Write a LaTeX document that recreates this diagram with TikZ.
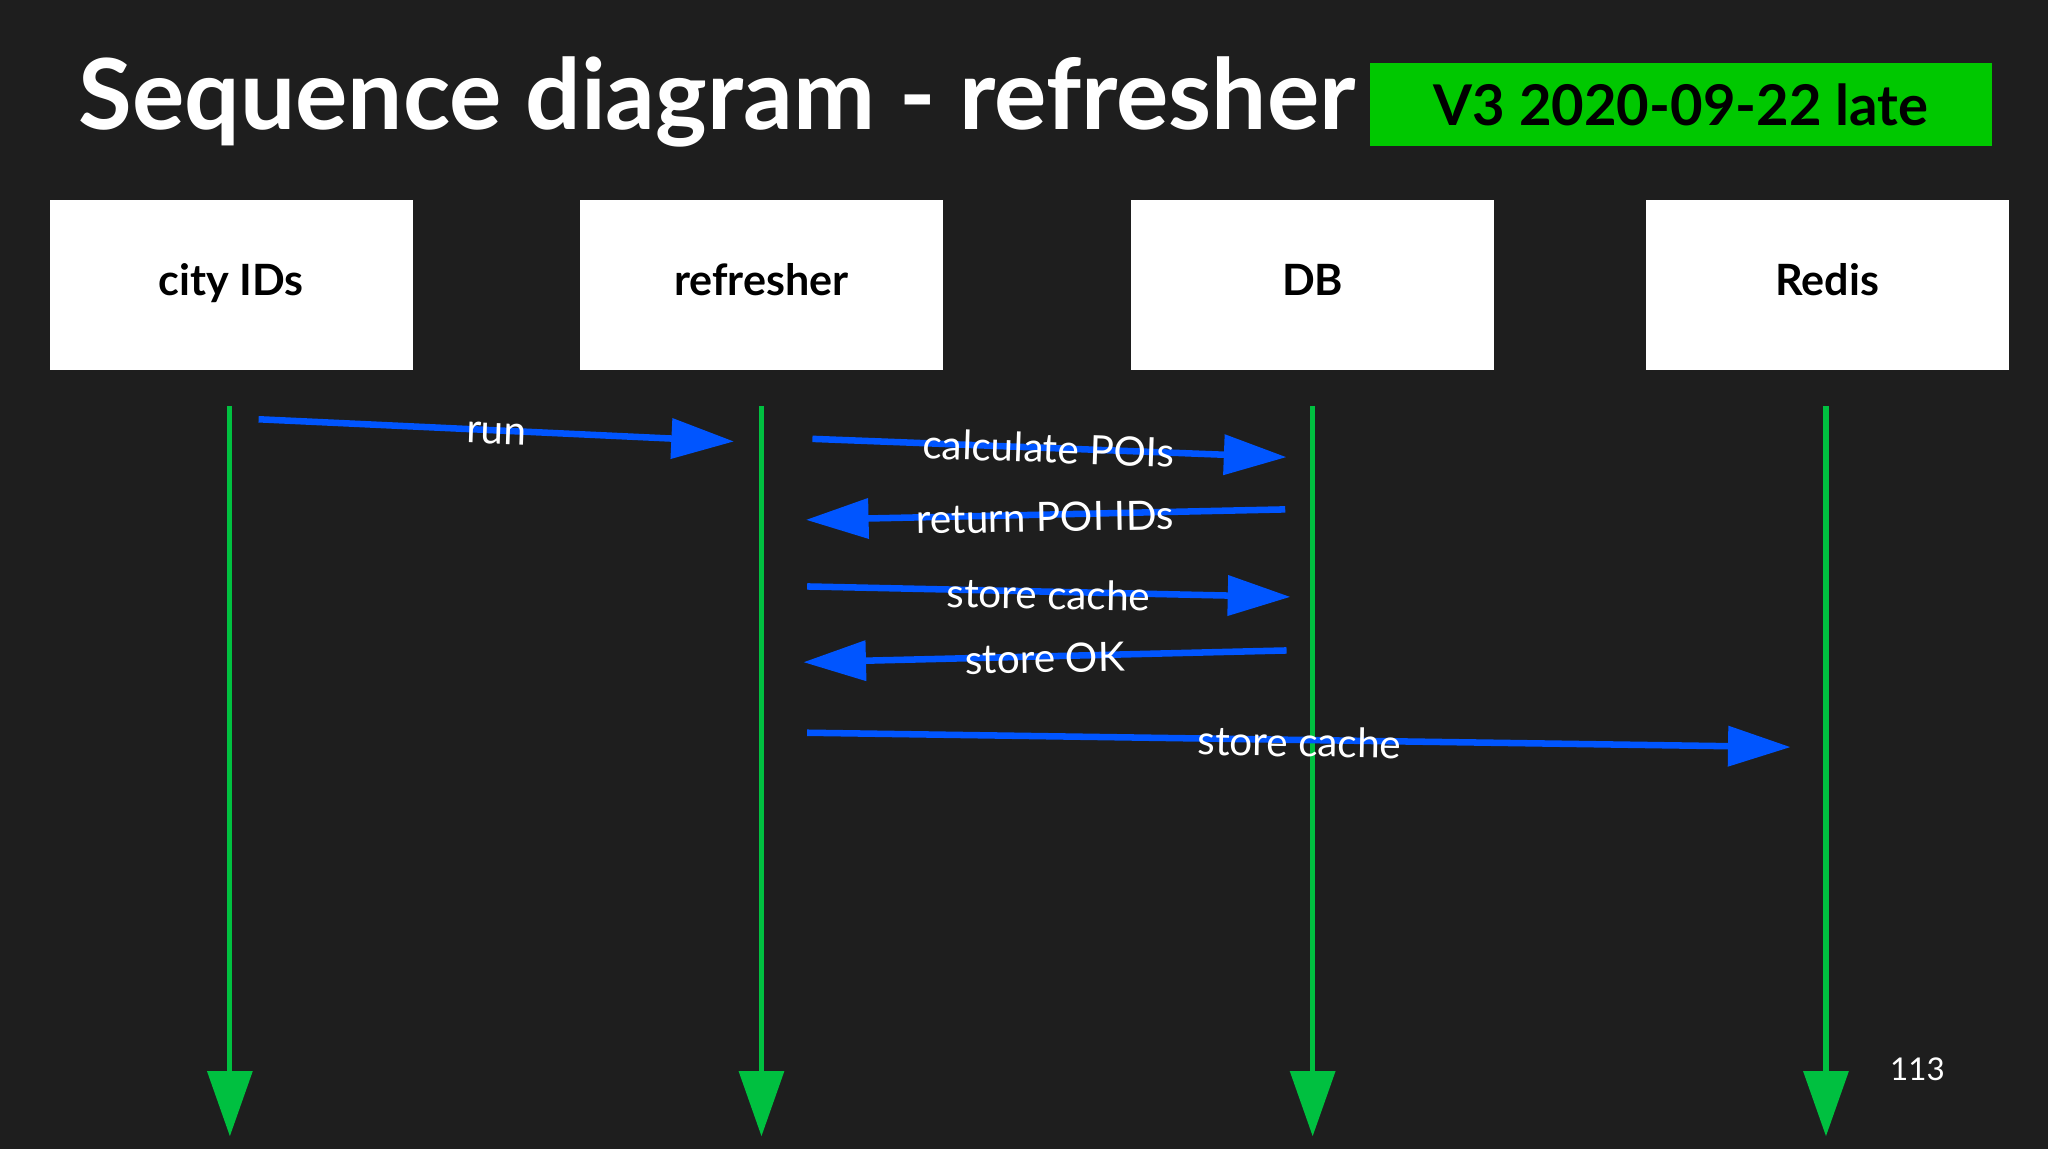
\documentclass[tikz,border=0pt]{standalone}
\usepackage{fontspec}
\setmainfont{Lato}
\usetikzlibrary{arrows.meta}
\definecolor{bg}{HTML}{1E1E1E}
\definecolor{lg}{HTML}{00C040}
\definecolor{vg}{HTML}{00C800}
\definecolor{ab}{HTML}{0055FF}
\begin{document}
\begin{tikzpicture}[x=1pt,y=-1pt,
  actor/.style={fill=white,minimum width=278pt,minimum height=130pt,inner sep=0pt,font=\fontsize{33}{36}\selectfont\bfseries,text=black,text height=24pt,text depth=7pt},
  life/.style={lg,line width=4pt,-{Triangle[length=50pt,width=34pt]}},
  msg/.style={ab,line width=5pt,-{Triangle[length=48pt,width=30pt]}},
  lbl/.style={text=white,font=\fontsize{31}{34}\selectfont,inner sep=0pt}]
\fill[bg] (0,0) rectangle (1568,880);
\useasboundingbox (0,0) rectangle (1568,880);
\node[text=white,font=\fontsize{75}{80}\selectfont\bfseries,anchor=west,inner sep=0pt] (title) at (60,78) {Sequence diagram - refresher};
\node[fill=vg,minimum width=476pt,minimum height=64pt,text=black,font=\fontsize{43}{46}\selectfont\bfseries] (ver) at (1287,80) {V3 2020-09-22 late};
\node[actor] (c) at (177,218) {city IDs};
\node[actor] (r) at (583,218) {refresher};
\node[actor] (d) at (1005,218) {DB};
\node[actor] (s) at (1399,218) {Redis};
\foreach \n/\x in {c/176,r/583,d/1005,s/1398}{
  \coordinate (\n t) at (\x,311); \coordinate (\n b) at (\x,870);
  \draw[life] (\n t) -- (\n b);}
\coordinate (a1) at (198,321); \coordinate (b1) at (562,338);
\coordinate (a2) at (622,336); \coordinate (b2) at (985,350);
\coordinate (a3) at (984,390); \coordinate (b3) at (617,398);
\coordinate (a4) at (618,449); \coordinate (b4) at (988,457);
\coordinate (a5) at (985,498); \coordinate (b5) at (615,507);
\coordinate (a6) at (618,561); \coordinate (b6) at (1371,572);
\foreach \i in {1,...,6}{\draw[msg] (a\i) -- (b\i);}
\node[lbl,rotate=-2] (l1) at (380,332) {run};
\node[lbl,rotate=-2] (l2) at (803,343) {calculate POIs};
\node[lbl,rotate=1] (l3) at (800,396) {return POI IDs};
\node[lbl,rotate=-1] (l4) at (803,455) {store cache};
\node[lbl,rotate=1] (l5) at (800,504) {store OK};
\node[lbl,rotate=-1] (l6) at (995,568) {store cache};
\node[lbl,font=\fontsize{24}{28}\selectfont] (pg) at (1468,819) {113};
\end{tikzpicture}
\end{document}
